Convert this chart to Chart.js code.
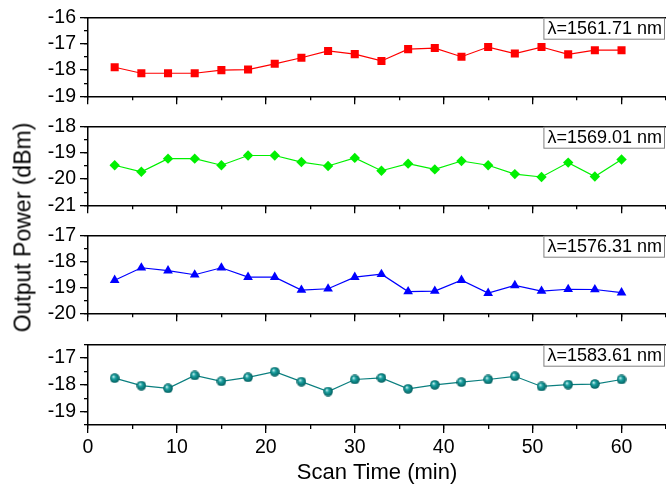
<!DOCTYPE html>
<html>
<head>
<meta charset="utf-8">
<script src="https://cdn.jsdelivr.net/npm/chart.js@4.4.1/dist/chart.umd.min.js"></script>
<style>
    body { margin: 0; background: #fff; width: 666px; height: 486px; overflow: hidden; position: relative; }
    canvas { position: absolute; left: 0; }
    #yTitle {
        position: absolute; left: -107px; top: 214px; width: 260px; height: 27px;
        line-height: 27px; text-align: center; transform: rotate(-90deg);
        font: 23px "Liberation Sans", Arial, sans-serif; color: #000; white-space: nowrap;
    }
</style>
</head>
<body>
<canvas id="p1" width="666" height="110" style="top:2px"></canvas>
<canvas id="p2" width="666" height="110" style="top:111px"></canvas>
<canvas id="p3" width="666" height="109" style="top:220px"></canvas>
<canvas id="p4" width="666" height="157" style="top:329px"></canvas>
<div id="yTitle">Output Power (dBm)</div>
<script>
    // data
    const scanTime = [3, 6, 9, 12, 15, 18, 21, 24, 27, 30, 33, 36, 39, 42, 45, 48, 51, 54, 57, 60];
    const power1561 = [-17.89, -18.12, -18.12, -18.12, -18.0, -17.98, -17.76, -17.53, -17.27, -17.39,
                       -17.65, -17.2, -17.16, -17.49, -17.12, -17.37, -17.12, -17.4, -17.24, -17.24];
    const power1569 = [-19.47, -19.72, -19.22, -19.22, -19.47, -19.1, -19.1, -19.35, -19.5, -19.19,
                       -19.68, -19.41, -19.63, -19.31, -19.47, -19.81, -19.92, -19.37, -19.9, -19.25];
    const power1576 = [-18.72, -18.24, -18.35, -18.51, -18.24, -18.6, -18.6, -19.1, -19.05, -18.6,
                       -18.49, -19.16, -19.14, -18.72, -19.22, -18.92, -19.14, -19.07, -19.08, -19.2];
    const power1583 = [-17.75, -18.03, -18.13, -17.65, -17.87, -17.72, -17.51, -17.88, -18.25, -17.8,
                       -17.74, -18.15, -18.0, -17.9, -17.8, -17.68, -18.06, -17.99, -17.97, -17.8];
    const waveLabels = ['λ=1561.71 nm', 'λ=1569.01 nm', 'λ=1576.31 nm', 'λ=1583.61 nm'];

    const xTicks = [0, 10, 20, 30, 40, 50, 60];
    const xRange = [0, 65];
    const yTicks1 = [-19, -18, -17, -16];
    const yTicks2 = [-21, -20, -19, -18];
    const yTicks3 = [-20, -19, -18, -17];
    const yTicks4 = [-19, -18, -17];
    const yRange1 = [-19, -16];
    const yRange2 = [-21, -18];
    const yRange3 = [-20, -17];
    const yRange4 = [-19.5, -16.5];

    const FONT = '"Liberation Sans", Arial, sans-serif';

    // shaded ball marker for the last series
    function makeBall() {
        const c = document.createElement('canvas');
        c.width = 10; c.height = 10;
        const g = c.getContext('2d');
        const grad = g.createRadialGradient(3.6, 3.4, 0.3, 5, 5, 5);
        grad.addColorStop(0, '#c8f0f0');
        grad.addColorStop(0.35, '#1aa0a0');
        grad.addColorStop(1, '#005a5a');
        g.fillStyle = grad;
        g.beginPath();
        g.arc(5, 5, 4.8, 0, Math.PI * 2);
        g.fill();
        return c;
    }

    // frame line on top and boxed wavelength label
    const panelDeco = {
        id: 'panelDeco',
        afterDraw(chart, args, opts) {
            const { ctx, chartArea } = chart;
            ctx.save();
            ctx.strokeStyle = '#000';
            ctx.lineWidth = 1.5;
            ctx.beginPath();
            ctx.moveTo(chartArea.left, chartArea.top);
            ctx.lineTo(chartArea.right, chartArea.top);
            ctx.stroke();

            ctx.font = '18px ' + FONT;
            const w = ctx.measureText(opts.text).width;
            const bx = chartArea.right - w - 8;
            const by = chartArea.top + 0.5;
            ctx.fillStyle = '#fff';
            ctx.fillRect(bx, by, w + 7, 21);
            ctx.strokeStyle = '#808080';
            ctx.lineWidth = 1;
            ctx.strokeRect(bx + 0.5, by, w + 6, 21);
            ctx.fillStyle = '#000';
            ctx.textBaseline = 'middle';
            ctx.fillText(opts.text, bx + 4, by + 11);
            ctx.restore();
        }
    };

    function makePanel(id, values, color, style, radius, yTicks, yRange, label, isLast) {
        new Chart(document.getElementById(id), {
            type: 'line',
            data: {
                datasets: [{
                    data: scanTime.map((t, i) => ({ x: t, y: values[i] })),
                    borderColor: color,
                    backgroundColor: color,
                    borderWidth: 1.2,
                    pointStyle: style,
                    pointRadius: radius,
                    pointBorderWidth: 0,
                    tension: 0
                }]
            },
            options: {
                responsive: false,
                animation: false,
                layout: { autoPadding: false, padding: { top: 14, left: 0, right: 0, bottom: isLast ? 0 : 6 } },
                plugins: {
                    legend: { display: false },
                    tooltip: { enabled: false },
                    panelDeco: { text: label }
                },
                scales: {
                    x: {
                        type: 'linear', position: 'bottom', weight: 1,
                        min: xRange[0], max: xRange[1],
                        grid: { drawOnChartArea: false, tickLength: 8, color: '#000', lineWidth: 1.3 },
                        border: { display: true, color: '#000', width: 1.5 },
                        ticks: { display: isLast, padding: 3, color: '#000', font: { family: FONT, size: 19.5 } },
                        afterBuildTicks: s => { s.ticks = xTicks.map(v => ({ value: v })); },
                        title: {
                            display: isLast, text: 'Scan Time (min)', color: '#000',
                            font: { family: FONT, size: 22 }, padding: { top: 0, bottom: 0 }
                        },
                        afterFit: s => { s.height = isLast ? 61 : 8; }
                    },
                    xMinor: {
                        type: 'linear', position: 'bottom', weight: 0,
                        min: xRange[0], max: xRange[1],
                        grid: { drawOnChartArea: false, tickLength: 4, color: '#000', lineWidth: 1.3 },
                        border: { display: false },
                        ticks: { display: false, stepSize: 5, includeBounds: false },
                        afterFit: s => { s.height = 0; }
                    },
                    y: {
                        position: 'left', weight: 1,
                        min: yRange[0], max: yRange[1],
                        grid: { drawOnChartArea: false, tickLength: 8, color: '#000', lineWidth: 1.3 },
                        border: { display: true, color: '#000', width: 1.5 },
                        ticks: { padding: 4, color: '#000', font: { family: FONT, size: 19.5 } },
                        afterBuildTicks: s => { s.ticks = yTicks.map(v => ({ value: v })); },
                        afterFit: s => { s.width = 88; }
                    },
                    yMinor: {
                        position: 'left', weight: 0,
                        min: yRange[0], max: yRange[1],
                        grid: { drawOnChartArea: false, tickLength: 4, color: '#000', lineWidth: 1.3 },
                        border: { display: false },
                        ticks: { display: false },
                        afterBuildTicks: s => {
                            const t = [];
                            for (let v = yRange[0]; v <= yRange[1] + 1e-9; v += 0.5) t.push({ value: v });
                            s.ticks = t;
                        },
                        afterFit: s => { s.width = 0; }
                    }
                }
            },
            plugins: [panelDeco]
        });
    }

    makePanel('p1', power1561, '#ff0000', 'rect', 5.7, yTicks1, yRange1, waveLabels[0], false);
    makePanel('p2', power1569, '#00f000', 'rectRot', 5.2, yTicks2, yRange2, waveLabels[1], false);
    makePanel('p3', power1576, '#0000ff', 'triangle', 5.6, yTicks3, yRange3, waveLabels[2], false);
    makePanel('p4', power1583, '#0b7f7f', makeBall(), 5, yTicks4, yRange4, waveLabels[3], true);
</script>
</body>
</html>
